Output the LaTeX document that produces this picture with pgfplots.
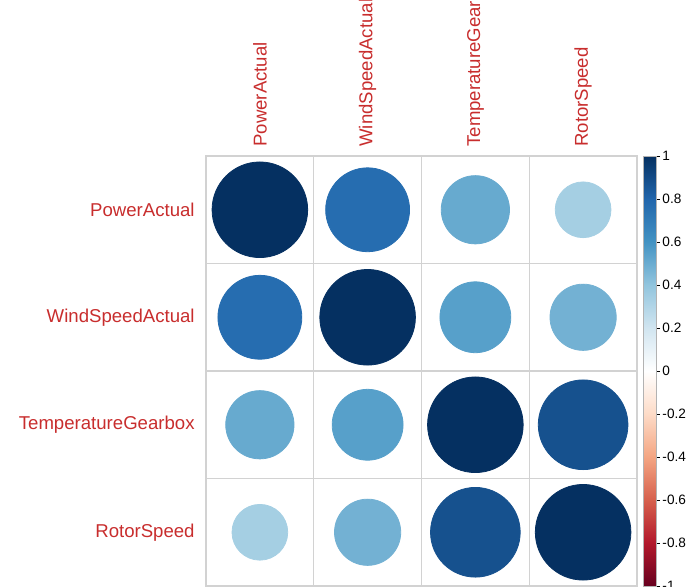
\documentclass[border=0pt]{standalone}
\usepackage{pgfplots}
\pgfplotsset{compat=1.18}
\usepackage{fontspec}
\setmainfont{Liberation Sans}
\definecolor{lab}{RGB}{200,45,45}
\definecolor{gridc}{RGB}{210,210,210}
\begin{document}
\begin{tikzpicture}
\useasboundingbox (-103pt,0pt) rectangle (242.5pt,293pt);
\clip (-103pt,0pt) rectangle (242.5pt,293pt);
\begin{axis}[
  at={(0pt,0pt)}, anchor=south west,
  scale only axis, width=215.5pt, height=215pt,
  xmin=0.5, xmax=4.5, ymin=0.5, ymax=4.5, y dir=reverse,
  xtick={1,2,3,4}, ytick={1,2,3,4},
  xticklabels={PowerActual,WindSpeedActual,TemperatureGearbox,RotorSpeed},
  yticklabels={PowerActual,WindSpeedActual,TemperatureGearbox,RotorSpeed},
  minor xtick={1.5,2.5,3.5}, minor ytick={1.5,2.5,3.5},
  grid=minor, minor grid style={gridc, line width=0.7pt},
  axis line style={gridc, line width=0.7pt},
  major tick length=0pt, minor tick length=0pt,
  xticklabel pos=upper,
  xticklabel style={rotate=90, anchor=west, inner sep=0pt, text=lab, font=\fontsize{9.3}{11}\selectfont},
  xticklabel shift=4.5pt,
  yticklabel style={anchor=east, inner sep=0pt, text=lab, font=\fontsize{9.3}{11}\selectfont},
  yticklabel shift=5.5pt,
  colormap={rdbu}{rgb255=(103,0,31) rgb255=(178,24,43) rgb255=(214,96,77) rgb255=(244,165,130) rgb255=(253,219,199) rgb255=(255,255,255) rgb255=(209,229,240) rgb255=(146,197,222) rgb255=(67,147,195) rgb255=(33,102,172) rgb255=(5,48,97)},
  point meta min=-1, point meta max=1,
  colorbar,
  colorbar style={
    at={(parent axis.north east)}, anchor=north west, xshift=-5.5pt,
    width=6.5pt, y dir=normal,
    ytick={-1,-0.8,-0.6,-0.4,-0.2,0,0.2,0.4,0.6,0.8,1},
    yticklabel pos=right, ytick pos=right, tick align=outside,
    major tick length=2pt, tick style={black, line width=0.3pt},
    axis line style={draw=gray!60, line width=0.3pt},
    yticklabel style={font=\fontsize{6.8}{8}\selectfont, inner sep=1pt, /pgf/number format/fixed, /pgf/number format/precision=1, /pgf/number format/assume math mode=true},
  },
]
\addplot[scatter, only marks, mark=*, point meta=\thisrow{r},
  scatter/use mapped color={draw=mapped color, fill=mapped color},
  visualization depends on={23.9*sqrt(abs(\thisrow{r})) \as \rad},
  scatter/@pre marker code/.append style={/tikz/mark size=\rad}]
  table[x=x, y=y] {
x y r
1 1 1
2 1 0.77
3 1 0.51
4 1 0.34
1 2 0.77
2 2 1
3 2 0.55
4 2 0.48
1 3 0.51
2 3 0.55
3 3 1
4 3 0.88
1 4 0.34
2 4 0.48
3 4 0.88
4 4 1
};
\end{axis}
\end{tikzpicture}
\end{document}
